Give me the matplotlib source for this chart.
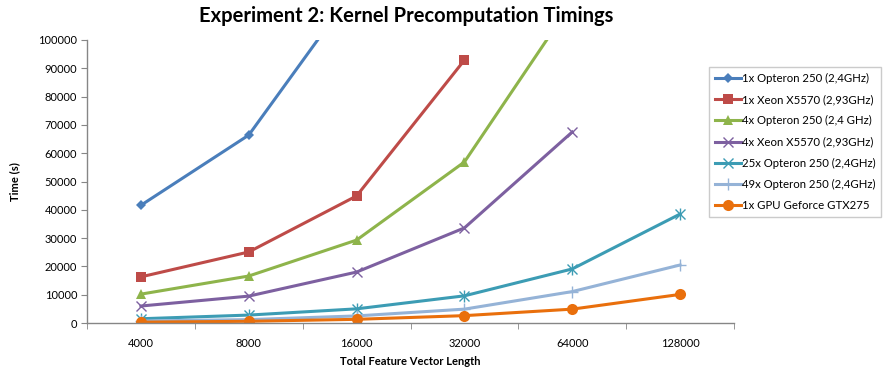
import matplotlib
matplotlib.use("Agg")
import matplotlib.pyplot as plt
import numpy as np

categories = ["4000", "8000", "16000", "32000", "64000", "128000"]

series_names = [
    "1x Opteron 250 (2,4GHz)",
    "1x Xeon X5570 (2,93GHz)",
    "4x Opteron 250 (2,4 GHz)",
    "4x Xeon X5570 (2,93GHz)",
    "25x Opteron 250 (2,4GHz)",
    "49x Opteron 250 (2,4GHz)",
    "1x GPU Geforce GTX275",
]

opteron_1x = [41600, 66400, 119000]
xeon_1x = [16300, 25100, 44900, 92900]
opteron_4x = [10200, 16600, 29300, 56900, 113400]
xeon_4x = [6000, 9500, 18000, 33600, 67500]
opteron_25x = [1500, 2800, 5000, 9600, 19100, 38500]
opteron_49x = [700, 1200, 2500, 4900, 11100, 20500]
gpu_gtx275 = [300, 600, 1300, 2600, 4900, 10100]

all_series = [opteron_1x, xeon_1x, opteron_4x, xeon_4x, opteron_25x, opteron_49x, gpu_gtx275]

colors = ["#4A7EBB", "#BE4B48", "#8EB44B", "#7D60A0", "#3C9CB4", "#95B3D7", "#E96F0C"]
markers = ["D", "s", "^", "x", "*", "+", "o"]
msizes = [5, 7, 7, 7, 7, 8, 8]

plt.rcParams['font.family'] = ['Lato', 'DejaVu Sans']

fig = plt.figure(figsize=(8.85, 3.72), dpi=100)
ax = fig.add_axes([87/885, 49/372, (734-87)/885, (323-40)/372])

axis_grey = "#868686"

for name, vals, c, m, ms in zip(series_names, all_series, colors, markers, msizes):
    x = np.arange(len(vals))
    if m == "*":
        ax.plot(x, vals, color=c, lw=2.2, marker="x", ms=ms, mew=1.0, label=name)
        ax.plot(x, vals, color=c, lw=0, marker="|", ms=ms + 1, mew=1.0)
    elif m in ("x", "+"):
        ax.plot(x, vals, color=c, lw=2.2, marker=m, ms=ms, mew=1.0, label=name)
    else:
        ax.plot(x, vals, color=c, lw=2.2, marker=m, ms=ms, mew=0, label=name)

ax.set_xlim(-0.5, len(categories) - 0.5)
ax.set_ylim(0, 100000)
ax.set_yticks(np.arange(0, 100001, 10000))
ax.set_yticklabels([str(v) for v in range(0, 100001, 10000)])
ax.set_xticks(np.arange(len(categories)))
ax.set_xticklabels(categories)
ax.set_xticks(np.arange(-0.5, len(categories), 1.0), minor=True)
ax.tick_params(axis="x", which="major", length=0, pad=11, labelsize=8)
ax.tick_params(axis="x", which="minor", length=4, color=axis_grey, direction="out")
ax.tick_params(axis="y", length=4, color=axis_grey, labelsize=8, pad=3)

for s in ["top", "right"]:
    ax.spines[s].set_visible(False)
for s in ["left", "bottom"]:
    ax.spines[s].set_color(axis_grey)
    ax.spines[s].set_linewidth(1.0)

ax.set_xlabel("Total Feature Vector Length", fontsize=8, fontweight="bold", labelpad=5)
ax.set_ylabel("Time (s)", fontsize=8, fontweight="bold", labelpad=13)

fig.text(406/885, 1 - 16/372, "Experiment 2: Kernel Precomputation Timings",
         ha="center", va="center", fontsize=14.5, fontweight="bold")

leg = fig.legend(loc="upper left", bbox_to_anchor=(709/885, 1 - 67/372),
                 fontsize=8.2, frameon=True, fancybox=False, edgecolor="#BFBFBF",
                 handlelength=2.3, handletextpad=0.1, labelspacing=0.9,
                 borderpad=0.5, borderaxespad=0)
leg.get_frame().set_linewidth(1.0)

fig.savefig("out.png", dpi=100)
